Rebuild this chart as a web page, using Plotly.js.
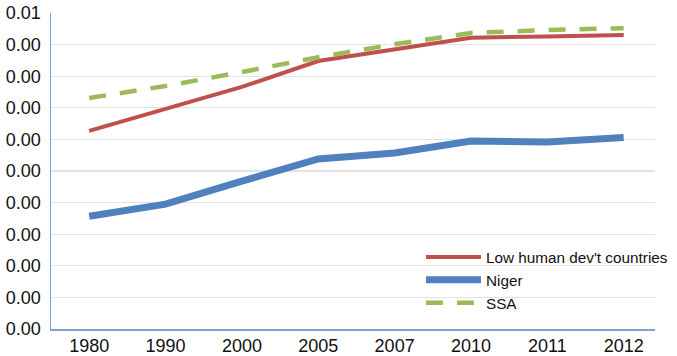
<!DOCTYPE html>
<html>
<head>
<meta charset="utf-8">
<script src="https://cdn.plot.ly/plotly-3.0.1.min.js"></script>
<style>html,body{margin:0;padding:0;background:#fff;}#chart{width:677px;height:356px;}</style>
</head>
<body>
<div id="chart"></div>
<script>
var years = ["1980", "1990", "2000", "2005", "2007", "2010", "2011", "2012"];
var lowHDI = [0.00627, 0.00696, 0.00766, 0.00848, 0.00884, 0.00922, 0.00926, 0.00930];
var niger = [0.00357, 0.00395, 0.00468, 0.00538, 0.00557, 0.00595, 0.00592, 0.00606];
var ssa = [0.00731, 0.00769, 0.00813, 0.00860, 0.00901, 0.00937, 0.00946, 0.00952];
var yTicks = [0, 0.001, 0.002, 0.003, 0.004, 0.005, 0.006, 0.007, 0.008, 0.009, 0.01];
var yTickLabels = ["0.00", "0.00", "0.00", "0.00", "0.00", "0.00", "0.00", "0.00", "0.00", "0.00", "0.01"];

var traces = [
  {x: years, y: lowHDI, type: 'scatter', mode: 'lines', name: "Low human dev't countries",
   line: {color: '#C0504D', width: 4}},
  {x: years, y: niger, type: 'scatter', mode: 'lines', name: 'Niger',
   line: {color: '#4F81BD', width: 7}},
  {x: years, y: ssa, type: 'scatter', mode: 'lines', name: 'SSA',
   line: {color: '#9BBB59', width: 4.5, dash: '17px,14px'}}
];

var layout = {
  width: 677, height: 356,
  margin: {l: 51, r: 4, t: 13, b: 27},
  paper_bgcolor: '#fff', plot_bgcolor: '#fff',
  font: {family: 'Liberation Sans, Arial, sans-serif', color: '#111', size: 16},
  showlegend: true,
  legend: {x: 0.6125, y: 0.28, xanchor: 'left', yanchor: 'top', bgcolor: 'rgba(255,255,255,0)',
           font: {size: 15.3}, tracegroupgap: 0, itemwidth: 55, borderwidth: 0},
  xaxis: {type: 'category', range: [-0.5, 7.41], showgrid: false, zeroline: false,
          showline: true, linecolor: '#7F9FCF', linewidth: 1.5, ticks: '',
          tickfont: {size: 18}, fixedrange: true},
  yaxis: {range: [0, 0.01], tickvals: yTicks, ticktext: yTickLabels, showgrid: true,
          gridcolor: '#E2E2E2', gridwidth: 1.2, zeroline: false, showline: true,
          linecolor: '#7F9FCF', linewidth: 1.5, ticks: '', tickfont: {size: 18},
          ticklabelstandoff: 5, fixedrange: true}
};

Plotly.newPlot('chart', traces, layout, {displayModeBar: false, staticPlot: true});
</script>
</body>
</html>
